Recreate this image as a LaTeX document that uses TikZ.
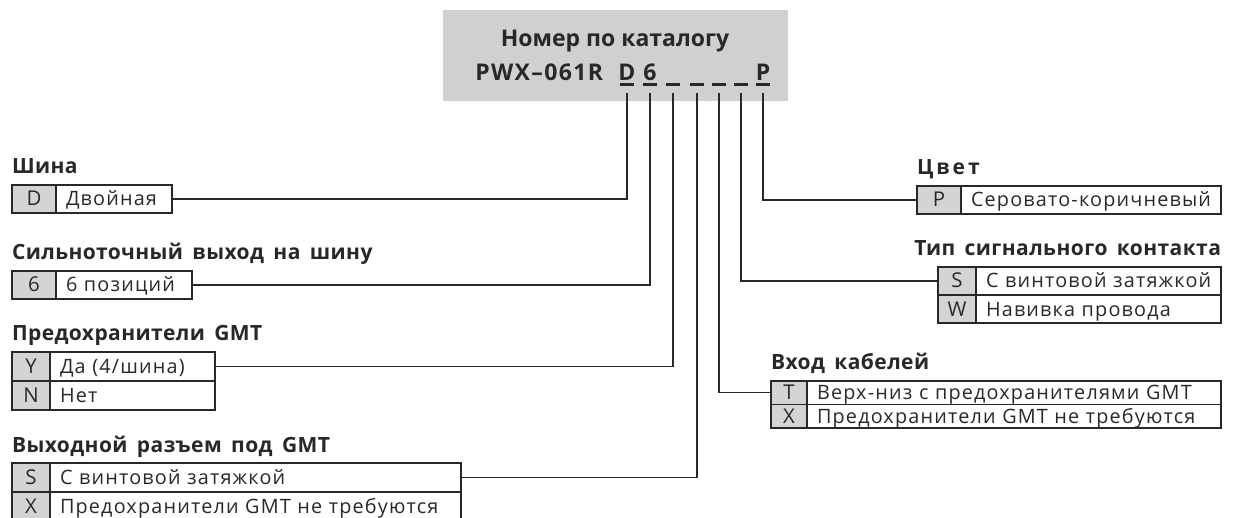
\documentclass[tikz,border=0pt]{standalone}
\usepackage{fontspec}
\setmainfont{Open Sans}
\newfontfamily\headfont[LetterSpace=2,WordSpace=1.6]{Open Sans}
\newfontfamily\cellfont[LetterSpace=6,WordSpace=2.0]{Open Sans}
\newfontfamily\codefont[LetterSpace=6]{Open Sans}
\usepackage{tikz}
\usetikzlibrary{positioning}

\definecolor{hdrgray}{RGB}{208,208,208}
\definecolor{keygray}{RGB}{212,212,212}
\definecolor{ink}{RGB}{40,40,40}

\begin{document}
\begin{tikzpicture}[
    x=0.5pt, y=-0.5pt,
    every node/.style={text=ink, outer sep=0pt},
    header/.style={rectangle, fill=hdrgray, minimum width=172.5pt, minimum height=45.5pt, anchor=north west, inner sep=0pt},
    title/.style={font=\bfseries\fontsize{11.5}{14}\selectfont, inner sep=0pt},
    heading/.style={font=\headfont\bfseries\fontsize{10.5}{12}\selectfont, anchor=base west, inner sep=0pt},
    key/.style={rectangle, draw=ink, line width=0.65pt, fill=keygray, minimum height=14pt, inner sep=0pt, text height=8pt, text depth=1pt, font=\fontsize{10.2}{12}\selectfont},
    desc/.style={rectangle, draw=ink, line width=0.65pt, minimum height=14pt, inner ysep=0pt, inner xsep=5pt, text height=8pt, text depth=1pt, align=left, font=\cellfont\fontsize{9.9}{12}\selectfont},
    wire/.style={draw=ink, line width=0.65pt},
    bar/.style={draw=ink, line width=1.3pt},
]
\useasboundingbox (0,0) rectangle (1237,518);

% --- Catalogue number header ---
\node[header] (hdr) at (443,10) {};
\node[title, anchor=base] (ttl) at (615,47) {Номер по каталогу};
\node[title, font=\codefont\bfseries\fontsize{11.5}{14}\selectfont, anchor=base east] (pwx) at (603,81) {PWX–061R};
\foreach \x/\c [count=\i] in {627/D,650/6,673/{},697/{},719/{},741/{},763/P} {
    \node[title, anchor=base] (slot\i) at (\x,81) {\c};
    \draw[bar] ({\x-7},84.5) -- ({\x+7},84.5);
    \coordinate (tap\i) at (\x,93);
}

% --- Bus ---
\node[key, minimum width=22pt, anchor=north west] (kBusD) at (12,185) {D};
\node[desc, text width=48pt, right=0pt of kBusD] (dBusD) {Двойная};
\node[heading] (hBus) at ([yshift=5.5pt]kBusD.north west) {Шина};

% --- High-current output ---
\node[key, minimum width=22pt, anchor=north west] (kOut6) at (12,271) {6};
\node[desc, text width=58pt, right=0pt of kOut6] (dOut6) {6 позиций};
\node[heading] (hOut) at ([yshift=5.5pt]kOut6.north west) {Сильноточный выход на шину};

% --- GMT fuses ---
\node[key, minimum width=19pt, minimum height=14.5pt, anchor=north west] (kFuseY) at (12,352) {Y};
\node[desc, text width=72.5pt, minimum height=14.5pt, right=0pt of kFuseY] (dFuseY) {Да (4/шина)};
\node[key, minimum width=19pt, minimum height=14.5pt, below=0pt of kFuseY] (kFuseN) {N};
\node[desc, text width=72.5pt, minimum height=14.5pt, right=0pt of kFuseN] (dFuseN) {Нет};
\node[heading] (hFuse) at ([yshift=5.5pt]kFuseY.north west) {Предохранители GMT};

% --- GMT output connector ---
\node[key, minimum width=19pt, minimum height=14.5pt, anchor=north west] (kConS) at (12,463) {S};
\node[desc, text width=195.5pt, minimum height=14.5pt, right=0pt of kConS] (dConS) {С винтовой затяжкой};
\node[key, minimum width=19pt, minimum height=14.5pt, below=0pt of kConS] (kConX) {X};
\node[desc, text width=195.5pt, minimum height=14.5pt, right=0pt of kConX] (dConX) {Предохранители GMT не требуются};
\node[heading] (hCon) at ([yshift=5.5pt]kConS.north west) {Выходной разъем под GMT};

% --- Colour ---
\node[key, minimum width=22pt, anchor=north west] (kColP) at (917,186) {P};
\node[desc, text width=120pt, right=0pt of kColP] (dColP) {Серовато-коричневый};
\node[heading, font=\headfont\bfseries\fontsize{10.5}{12}\addfontfeature{LetterSpace=14}] (hCol) at ([yshift=5.5pt]kColP.north west) {Цвет};

% --- Signal contact ---
\node[key, minimum width=19pt, anchor=north west] (kSigS) at (938,267) {S};
\node[desc, text width=112.5pt, right=0pt of kSigS] (dSigS) {\mbox{С винтовой затяжкой}};
\node[key, minimum width=19pt, below=0pt of kSigS] (kSigW) {W};
\node[desc, text width=112.5pt, right=0pt of kSigW] (dSigW) {Навивка провода};
\node[heading, anchor=base east] (hSig) at ([yshift=5.5pt]dSigS.north east) {Тип сигнального контакта};

% --- Cable entry ---
\node[key, minimum width=18pt, minimum height=11.75pt, anchor=north west] (kCabT) at (771,381) {T};
\node[desc, text width=197pt, minimum height=11.75pt, right=0pt of kCabT] (dCabT) {Верх-низ с предохранителями GMT};
\node[key, minimum width=18pt, minimum height=11.75pt, below=0pt of kCabT] (kCabX) {X};
\node[desc, text width=197pt, minimum height=11.75pt, right=0pt of kCabX] (dCabX) {Предохранители GMT не требуются};
\node[heading] (hCab) at ([yshift=5.5pt]kCabT.north west) {Вход кабелей};

% --- Wires from the code positions ---
\draw[wire] (tap1) |- (dBusD.east);
\draw[wire] (tap2) |- (dOut6.east);
\draw[wire] (tap3) |- (dFuseY.east);
\draw[wire] (tap4) |- (dConS.east);
\draw[wire] (tap5) |- (kCabT.west);
\draw[wire] (tap6) |- (kSigS.west);
\draw[wire] (tap7) |- (kColP.west);

\end{tikzpicture}
\end{document}
